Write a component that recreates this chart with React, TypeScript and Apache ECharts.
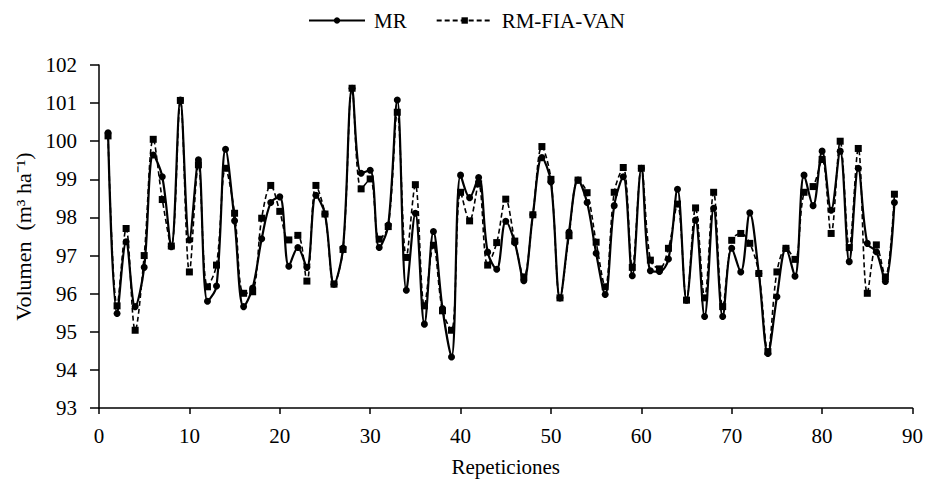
import React, { useEffect, useRef } from "react";
import * as echarts from "echarts";

const mrValues = [
  100.22, 95.48, 97.36, 95.66, 96.69, 99.64, 99.07, 97.23, 101.08, 97.41,
  99.51, 95.8, 96.2, 99.79, 97.91, 95.66, 96.15, 97.44, 98.39, 98.54,
  96.72, 97.21, 96.69, 98.58, 98.09, 96.25, 97.2, 101.39, 99.16, 99.24,
  97.21, 97.8, 101.08, 96.09, 98.11, 95.2, 97.63, 95.61, 94.34, 99.11,
  98.52, 99.05, 97.09, 96.64, 97.9, 97.34, 96.34, 98.07, 99.57, 98.93,
  95.89, 97.62, 98.98, 98.39, 97.06, 95.98, 98.31, 99.07, 96.47, 99.29,
  96.6, 96.58, 96.91, 98.74, 95.83, 97.93, 95.4, 98.24, 95.4, 97.19,
  96.57, 98.12, 96.53, 94.43, 95.92, 97.19, 96.46, 99.11, 98.31, 99.74,
  98.19, 99.74, 96.84, 99.29, 97.32, 97.1, 96.32, 98.39,
];

const rmValues = [
  100.14, 95.68, 97.71, 95.04, 97.0, 100.05, 98.47, 97.25, 101.07, 96.57,
  99.38, 96.18, 96.75, 99.29, 98.11, 96.01, 96.05, 97.98, 98.84, 98.16,
  97.41, 97.53, 96.33, 98.84, 98.09, 96.25, 97.16, 101.39, 98.75, 99.01,
  97.43, 97.76, 100.76, 96.95, 98.86, 95.68, 97.27, 95.55, 95.04, 98.66,
  97.91, 98.88, 96.75, 97.34, 98.48, 97.38, 96.44, 98.07, 99.86, 99.0,
  95.89, 97.52, 98.98, 98.65, 97.35, 96.18, 98.66, 99.31, 96.69, 99.29,
  96.88, 96.65, 97.19, 98.35, 95.83, 98.25, 95.89, 98.66, 95.66, 97.4,
  97.58, 97.32, 96.53, 94.48, 96.57, 97.19, 96.9, 98.66, 98.81, 99.52,
  97.58, 100.0, 97.21, 99.81, 96.01, 97.28, 96.44, 98.61,
];

const repetitions = mrValues.map((_, i) => i + 1);

const seriesNames = ["MR", "RM-FIA-VAN"];
const xAxisTitle = "Repeticiones";
const yAxisTitle = "Volumen  (m³ ha⁻¹)";

const FONT = "Liberation Serif";

export default function App() {
  const ref = useRef<HTMLDivElement>(null);

  useEffect(() => {
    document.body.style.margin = "0";
    if (!ref.current) return;
    const chart = echarts.init(ref.current, undefined, { renderer: "svg" });
    chart.setOption({
      animation: false,
      backgroundColor: "#ffffff",
      textStyle: { fontFamily: FONT, color: "#000" },
      legend: {
        top: 10,
        left: 308,
        itemWidth: 56,
        itemHeight: 8,
        itemGap: 29,
        padding: 0,
        textStyle: { fontFamily: FONT, fontSize: 21, color: "#000", padding: [0, 0, 0, 4] },
        data: seriesNames,
      },
      grid: { left: 99, right: 12, top: 65, bottom: 75, containLabel: false },
      xAxis: {
        type: "value",
        min: 0,
        max: 90,
        interval: 10,
        name: xAxisTitle,
        nameLocation: "middle",
        nameGap: 48,
        nameTextStyle: { fontFamily: FONT, fontSize: 21, color: "#000" },
        axisLine: { show: true, lineStyle: { color: "#000", width: 1.5 } },
        axisTick: { show: true, inside: false, length: 6, lineStyle: { color: "#000", width: 1.5 } },
        axisLabel: { fontFamily: FONT, fontSize: 21, color: "#000", margin: 17 },
        splitLine: { show: false },
      },
      yAxis: {
        type: "value",
        min: 93,
        max: 102,
        interval: 1,
        name: yAxisTitle,
        nameLocation: "middle",
        nameGap: 63,
        nameRotate: 90,
        nameTextStyle: { fontFamily: FONT, fontSize: 22, color: "#000" },
        axisLine: { show: true, lineStyle: { color: "#000", width: 1.5 } },
        axisTick: { show: true, inside: false, length: 9, lineStyle: { color: "#000", width: 1.5 } },
        axisLabel: { fontFamily: FONT, fontSize: 21, color: "#000", margin: 22 },
        splitLine: { show: false },
      },
      series: [
        {
          name: seriesNames[0],
          type: "line",
          data: repetitions.map((x, i) => [x, mrValues[i]]),
          smooth: 0.35,
          symbol: "circle",
          symbolSize: 7,
          z: 3,
          lineStyle: { color: "#000", width: 2.2 },
          itemStyle: { color: "#000" },
        },
        {
          name: seriesNames[1],
          type: "line",
          data: repetitions.map((x, i) => [x, rmValues[i]]),
          smooth: 0.35,
          symbol: "rect",
          symbolSize: 7,
          z: 2,
          lineStyle: { color: "#000", width: 1.6, type: [5, 3] },
          itemStyle: { color: "#000" },
        },
      ],
    });
    return () => chart.dispose();
  }, []);

  return <div ref={ref} style={{ width: 926, height: 483 }} />;
}
